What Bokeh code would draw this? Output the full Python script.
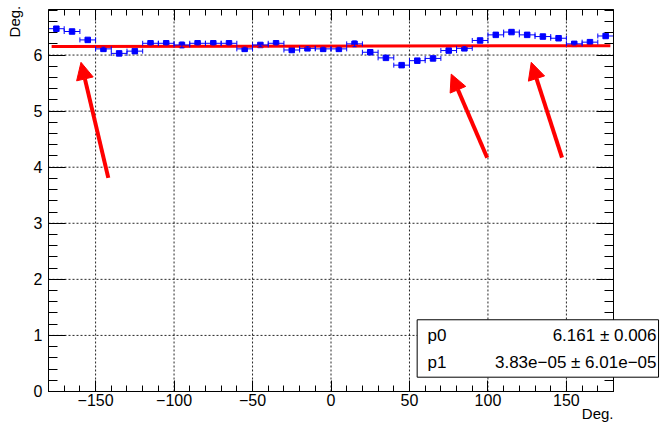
from bokeh.plotting import figure
from bokeh.models import (ColumnDataSource, Whisker, TeeHead, FixedTicker, LinearAxis,
                          Range1d, Label, BoxAnnotation, Arrow, NormalHead,
                          CustomJSTickFormatter)
from bokeh.embed import file_html
from bokeh.resources import INLINE

# ---- data -------------------------------------------------------------
bin_centers = [-175, -165, -155, -145, -135, -125, -115, -105, -95, -85,
               -75, -65, -55, -45, -35, -25, -15, -5, 5, 15,
               25, 35, 45, 55, 65, 75, 85, 95, 105, 115,
               125, 135, 145, 155, 165, 175]
bin_half_width = 5
values = [6.47, 6.42, 6.27, 6.11, 6.03, 6.07, 6.21, 6.21, 6.18, 6.21,
          6.21, 6.21, 6.11, 6.18, 6.21, 6.09, 6.12, 6.11, 6.11, 6.20,
          6.05, 5.95, 5.82, 5.90, 5.94, 6.08, 6.12, 6.26, 6.36, 6.41,
          6.36, 6.33, 6.30, 6.20, 6.23, 6.34]
errors = [0.03, 0.03, 0.03, 0.03, 0.02, 0.02, 0.03, 0.03, 0.05, 0.03,
          0.03, 0.03, 0.03, 0.03, 0.03, 0.03, 0.03, 0.03, 0.03, 0.05,
          0.03, 0.03, 0.02, 0.02, 0.03, 0.03, 0.03, 0.03, 0.03, 0.03,
          0.03, 0.03, 0.03, 0.02, 0.03, 0.03]

# linear fit y = p0 + p1 * x
fit_names = ["p0", "p1"]
fit_values = [6.161, 3.83e-05]
fit_errors = [0.006, 6.01e-05]
fit_texts = ["6.161 \u00b1 0.006", "3.83e\u221205 \u00b1 6.01e\u221205"]
fit_x = [-178, 178]

x_major = [-150, -100, -50, 0, 50, 100, 150]
x_major_labels = ["\u2212150", "\u2212100", "\u221250", "0", "50", "100", "150"]
x_minor = list(range(-180, 181, 10))
y_major = [0, 1, 2, 3, 4, 5, 6]
y_minor = [round(0.2 * i, 1) for i in range(0, 35)]

# arrows: (x_tail, y_tail, x_head, y_head)
arrows = [(-141.9, 3.81, -159.3, 5.87),
          (99.5, 4.17, 76.6, 5.66),
          (147.2, 4.17, 127.6, 5.87)]

FONT = "Liberation Sans"

# plot box in data units; the canvas range is wider so that titles and
# the statistics box can sit outside the box
X_LO, X_HI = -180, 180
Y_LO, Y_HI = 0, 6.81

p = figure(width=666, height=428, output_backend="svg", toolbar_location=None,
           x_range=Range1d(-210.59, 213.77), y_range=Range1d(-0.660, 6.973),
           x_axis_location=None, y_axis_location=None,
           min_border=0)
p.background_fill_color = "white"
p.border_fill_color = "white"
p.outline_line_color = None
p.xgrid.visible = False
p.ygrid.visible = False

xt = FixedTicker(ticks=x_major, minor_ticks=x_minor)
yt = FixedTicker(ticks=y_major, minor_ticks=y_minor)
blank = CustomJSTickFormatter(code="return ''")


def style_axis(ax, major, minor):
    ax.axis_line_color = "black"
    ax.major_tick_line_color = "black"
    ax.minor_tick_line_color = "black"
    ax.major_tick_in = major
    ax.major_tick_out = 0
    ax.minor_tick_in = minor
    ax.minor_tick_out = 0
    ax.major_label_text_font = FONT
    ax.major_label_text_font_size = "16px"
    ax.major_label_text_color = "black"


# ---- grid (dotted, at major ticks, inside the box) ---------------------
p.segment(x0=x_major, y0=[Y_LO] * len(x_major), x1=x_major, y1=[Y_HI] * len(x_major),
          line_color="black", line_dash="2 2", line_width=1, line_alpha=0.85,
          level="underlay")
p.segment(x0=[X_LO] * len(y_major), y0=y_major, x1=[X_HI] * len(y_major), y1=y_major,
          line_color="black", line_dash="2 2", line_width=1, line_alpha=0.85,
          level="underlay")

# ---- axes ----------------------------------------------------------------
bottom = LinearAxis(ticker=xt, major_label_overrides=dict(zip(x_major, x_major_labels)),
                    fixed_location=Y_LO, bounds=(X_LO, X_HI))
style_axis(bottom, 11, 6)
bottom.major_label_standoff = 3
p.add_layout(bottom, "below")

top = LinearAxis(ticker=xt, formatter=blank, fixed_location=Y_HI, bounds=(X_LO, X_HI))
style_axis(top, 11, 6)
top.major_label_standoff = 0
p.add_layout(top, "above")

left = LinearAxis(ticker=yt, fixed_location=X_LO, bounds=(Y_LO, Y_HI))
style_axis(left, 17, 9)
left.major_label_standoff = 6
p.add_layout(left, "left")

right = LinearAxis(ticker=yt, formatter=blank, fixed_location=X_HI, bounds=(Y_LO, Y_HI))
style_axis(right, 17, 9)
right.major_label_standoff = 0
p.add_layout(right, "right")

# ---- histogram points with errors ---------------------------------------
src = ColumnDataSource(dict(
    x=bin_centers, y=values,
    xl=[c - bin_half_width for c in bin_centers],
    xr=[c + bin_half_width for c in bin_centers],
    yl=[v - e for v, e in zip(values, errors)],
    yu=[v + e for v, e in zip(values, errors)],
))
blue = "#0000ff"
p.add_layout(Whisker(source=src, base="y", lower="xl", upper="xr", dimension="width",
                     line_color=blue, line_width=1, level="glyph",
                     lower_head=TeeHead(size=5, line_color=blue, line_width=1),
                     upper_head=TeeHead(size=5, line_color=blue, line_width=1)))
p.add_layout(Whisker(source=src, base="x", lower="yl", upper="yu", dimension="height",
                     line_color=blue, line_width=1, level="glyph",
                     lower_head=TeeHead(size=4, line_color=blue, line_width=1),
                     upper_head=TeeHead(size=4, line_color=blue, line_width=1)))
p.scatter("x", "y", source=src, marker="square", size=5.5,
          fill_color=blue, line_color=blue)

# ---- fit line -------------------------------------------------------------
fit_y = [fit_values[0] + fit_values[1] * x for x in fit_x]
p.line(fit_x, fit_y, line_color="#ff0000", line_width=3)

# ---- arrows ---------------------------------------------------------------
for x0, y0, x1, y1 in arrows:
    p.add_layout(Arrow(x_start=x0, y_start=y0, x_end=x1, y_end=y1,
                       line_color="#ff0000", line_width=4,
                       end=NormalHead(size=17, fill_color="#ff0000",
                                      line_color="#ff0000", line_width=1)))

# ---- axis titles ------------------------------------------------------------
p.add_layout(Label(x=X_HI, y=-0.385, text="Deg.", text_align="right",
                   text_baseline="alphabetic", text_font=FONT,
                   text_font_size="15px", text_color="black"))
p.add_layout(Label(x=-201.6, y=6.88, text="Deg.", angle=1.5708,
                   text_align="right", text_baseline="alphabetic",
                   text_font=FONT, text_font_size="15px", text_color="black"))

# ---- fit statistics box -------------------------------------------------------
p.add_layout(BoxAnnotation(left=54.9, right=208.7, bottom=0.255, top=1.279,
                           fill_color="white", fill_alpha=1.0,
                           line_color="black", line_width=1, line_alpha=1.0,
                           level="annotation"))
for name, txt, yb in zip(fit_names, fit_texts, (1.004, 0.512)):
    p.add_layout(Label(x=61.5, y=yb, text=name, text_align="left",
                       text_baseline="alphabetic", text_font=FONT,
                       text_font_size="17px", text_color="black"))
    p.add_layout(Label(x=207.4, y=yb, text=txt, text_align="right",
                       text_baseline="alphabetic", text_font=FONT,
                       text_font_size="17px", text_color="black"))

open("out.html", "w").write(file_html(p, INLINE))
